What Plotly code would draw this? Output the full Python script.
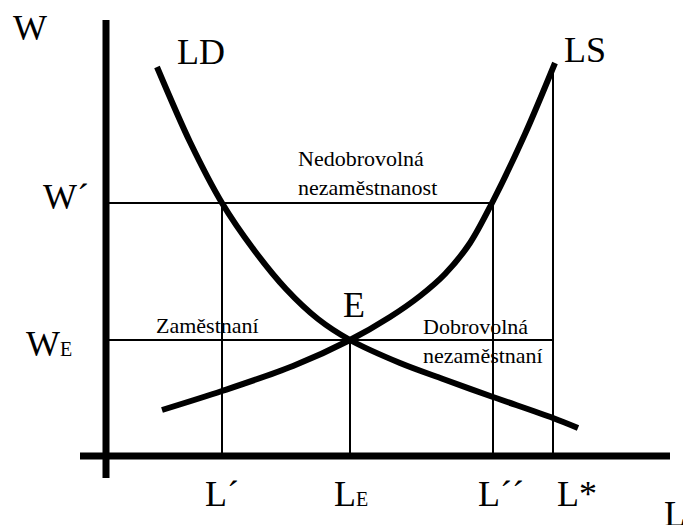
import plotly.graph_objects as go

# trh práce (jednotky: px od počátku os)
W_E = 116
W_1 = 253          # W´
L_1 = 116          # L´
L_E = 244
L_2 = 387          # L´´
L_star = 447
L_star_top = 389

ld_x = [51, 84, 116, 148, 180, 212, 244, 294, 337, 387, 447, 472]
ld_y = [389, 314, 253, 206, 167, 137, 116, 93, 77, 59, 38, 28]

ls_x = [56, 116, 187, 244, 284, 314, 339, 364, 386, 419, 449]
ls_y = [46, 65, 90, 116, 139, 160, 182, 213, 253, 322, 393]

w_axis = [-22, 436]
l_axis = [-26, 564]

serif = "Times New Roman, Liberation Serif, Times, serif"

fig = go.Figure()

def seg(x, y, w):
    fig.add_trace(go.Scatter(x=x, y=y, mode="lines",
                             line=dict(color="black", width=w),
                             hoverinfo="skip"))

# osy
seg([0, 0], w_axis, 7)
seg(l_axis, [0, 0], 7)

# pomocné čáry
seg([0, L_2], [W_1, W_1], 2)
seg([0, L_star], [W_E, W_E], 2)
seg([L_1, L_1], [0, W_1], 2)
seg([L_E, L_E], [0, W_E], 2)
seg([L_2, L_2], [0, W_1], 2)
seg([L_star, L_star], [0, L_star_top], 2)

# křivky LD a LS
fig.add_trace(go.Scatter(x=ld_x, y=ld_y, mode="lines",
                         line=dict(color="black", width=6, shape="spline", smoothing=0.9),
                         hoverinfo="skip"))
fig.add_trace(go.Scatter(x=ls_x, y=ls_y, mode="lines",
                         line=dict(color="black", width=6, shape="spline", smoothing=0.9),
                         hoverinfo="skip"))

big = dict(family=serif, size=36, color="black")
small = dict(family=serif, size=22, color="black")
sub = "<span style='font-size:20px'>E</span>"

labels = [
    ("W", -76, 428),
    ("LD", 95, 404),
    ("LS", 479, 406),
    ("W´", -40, 259),
    ("W" + sub, -57, 112),
    ("E", 248, 151),
    ("L´", L_1, -38),
    ("L" + sub, L_E + 1, -38),
    ("L´´", L_2 + 8, -38),
    ("L*", L_star + 24, -38),
]
for t, x, y in labels:
    fig.add_annotation(x=x, y=y, text=t, showarrow=False, font=big,
                       xanchor="center", yanchor="middle")

fig.add_annotation(x=556, y=-58, text="L", showarrow=False, font=big,
                   xanchor="left", yanchor="middle")

notes = [
    ("Nedobrovolná<br>nezaměstnanost", 190, 312),
    ("Zaměstnaní", 48, 145),
    ("Dobrovolná<br>nezaměstnaní", 315, 144),
]
for t, x, y in notes:
    fig.add_annotation(x=x, y=y, text=t, showarrow=False, font=small,
                       xanchor="left", yanchor="top", align="left")

fig.update_layout(
    width=683, height=525,
    margin=dict(l=0, r=0, t=0, b=0),
    paper_bgcolor="white", plot_bgcolor="white",
    showlegend=False,
    font=dict(family=serif),
    xaxis=dict(range=[-106, 577], visible=False, fixedrange=True),
    yaxis=dict(range=[-69, 456], visible=False, fixedrange=True),
)

# stránka bez okraje, aby graf seděl přesně do okna
fig.write_html("out.html", config={"displayModeBar": False},
               post_script="document.body.style.margin='0';")
